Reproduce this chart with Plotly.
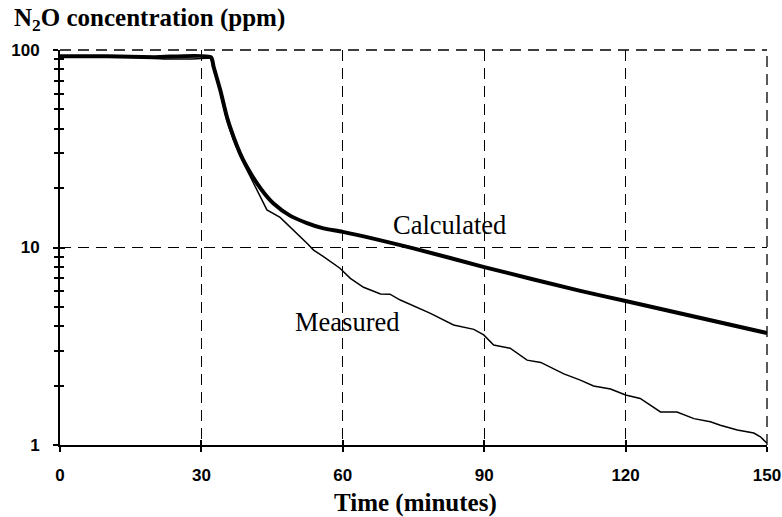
import plotly.graph_objects as go

# ---- data ----
calc_t = [0, 10, 20, 32, 32.6, 34.0, 35.4, 36.8, 38.2, 39.6, 41.8, 43.5, 45.3, 48.8, 52.4,
          55.9, 60, 75, 90, 110.4, 120, 150]
calc_v = [93, 93, 92, 92, 82, 62.7, 45.9, 36.4, 30, 25.7, 21.1, 18.6, 16.7, 14.5, 13.3,
          12.5, 12.0, 9.9, 7.96, 6.03, 5.36, 3.69]

meas_t = [0, 8, 17, 22, 28, 32, 32.6, 34.0, 35.4, 36.8, 38.2, 39.7, 41.8, 43.9, 46.7,
          49.5, 52.4, 53.8, 55.9, 59.4, 61.6, 64.4, 68, 70, 72.2, 78.6, 83.5, 87.8,
          89.9, 92, 95.5, 99.1, 102, 106.9, 110.4, 113.2, 116.8, 120, 123.1, 127.4,
          130.9, 134.5, 138, 140.1, 143.7, 147.2, 148.6, 150]
meas_v = [93, 93, 92, 90, 90, 91, 80, 61, 44, 35, 29, 24.5, 19.5, 15.5, 14.2,
          12.3, 10.5, 9.7, 9.0, 7.85, 6.98, 6.29, 5.82, 5.8, 5.42, 4.64, 4.05, 3.85,
          3.61, 3.21, 3.09, 2.69, 2.62, 2.29, 2.13, 1.99, 1.92, 1.79, 1.72, 1.47,
          1.47, 1.36, 1.31, 1.26, 1.19, 1.15, 1.10, 1.02]

x_ticks = [0, 30, 60, 90, 120, 150]
y_ticks = [1, 10, 100]
y_tick_text = ["1", "10", "100"]

y_title = "N<sub>2</sub>O concentration (ppm)"
x_title = "Time (minutes)"
label_calc = "Calculated"
label_meas = "Measured"

SERIF = "Liberation Serif, Times New Roman, serif"
SANS = "Liberation Sans, Arial, sans-serif"

fig = go.Figure()
fig.add_trace(go.Scatter(x=calc_t, y=calc_v, mode="lines",
                         line=dict(color="black", width=4, shape="spline", smoothing=0.6),
                         name=label_calc, showlegend=False))
fig.add_trace(go.Scatter(x=meas_t, y=meas_v, mode="lines",
                         line=dict(color="black", width=1.5), name=label_meas,
                         showlegend=False))
# empty trace to instantiate the overlay axes (inside tick marks)
fig.add_trace(go.Scatter(x=[None], y=[None], xaxis="x2", yaxis="y2",
                         showlegend=False, hoverinfo="skip"))

grid_dash = "11px,7px"
grid_w = 1.3
tick_font = dict(family=SANS, size=17, color="black", weight="bold")
fig.update_layout(
    width=782, height=517,
    margin=dict(l=60, r=15, t=50, b=72, autoexpand=False),
    paper_bgcolor="white", plot_bgcolor="white",
    showlegend=False,
    xaxis=dict(range=[0, 150], tickvals=x_ticks, ticks="outside", ticklen=5,
               tickwidth=1.5, tickcolor="black", automargin=False,
               showline=True, linecolor="black", linewidth=1.5,
               showgrid=True, gridcolor="black", gridwidth=grid_w, griddash=grid_dash,
               zeroline=False, ticklabelstandoff=9, tickfont=tick_font),
    xaxis2=dict(range=[0, 150], overlaying="x", tickvals=x_ticks, ticks="inside",
                ticklen=5, tickwidth=1.5, tickcolor="black", showticklabels=False,
                showgrid=False, showline=False, zeroline=False, anchor="y2",
                automargin=False),
    yaxis=dict(type="log", range=[0, 2], tickvals=y_ticks, ticktext=y_tick_text,
               ticks="outside", ticklen=5, tickwidth=1.5, tickcolor="black",
               minor=dict(ticks="outside", ticklen=4, tickwidth=1.5, tickcolor="black",
                          dtick="D1", showgrid=False),
               showline=True, linecolor="black", linewidth=2, automargin=False,
               showgrid=True, gridcolor="black", gridwidth=grid_w, griddash=grid_dash,
               zeroline=False, ticklabelstandoff=10, tickfont=tick_font),
    yaxis2=dict(type="log", range=[0, 2], overlaying="y", tickvals=y_ticks,
                ticks="inside", ticklen=5, tickwidth=1.5, tickcolor="black",
                minor=dict(ticks="inside", ticklen=4, tickwidth=1.5,
                           tickcolor="black", dtick="D1", showgrid=False),
                showticklabels=False, showgrid=False, showline=False,
                zeroline=False, anchor="x2", automargin=False),
    shapes=[
        # dashed grid lines at the top (100) and right (150) edges of the plot area
        dict(type="line", xref="paper", yref="paper", x0=0, x1=1, y0=1, y1=1,
             line=dict(color="black", width=grid_w, dash=grid_dash), layer="below"),
        dict(type="line", xref="paper", yref="paper", x0=1, x1=1, y0=0, y1=1,
             line=dict(color="black", width=grid_w, dash=grid_dash), layer="below"),
    ],
    annotations=[
        dict(text=y_title, xref="paper", yref="paper", x=-0.068, y=1.078,
             xanchor="left", yanchor="middle", showarrow=False,
             font=dict(family=SERIF, size=25, color="black", weight="bold")),
        dict(text=x_title, xref="paper", yref="paper", x=0.5035, y=-0.148,
             xanchor="center", yanchor="middle", showarrow=False,
             font=dict(family=SERIF, size=25, color="black", weight="bold")),
        dict(text=label_calc, xref="x", yref="y", x=82.7, y=1.114,
             xanchor="center", yanchor="middle", showarrow=False,
             font=dict(family=SERIF, size=26.5, color="black")),
        dict(text=label_meas, xref="x", yref="y", x=60.9, y=0.623,
             xanchor="center", yanchor="middle", showarrow=False,
             font=dict(family=SERIF, size=26.5, color="black")),
    ],
)

fig.write_html("out.html")
